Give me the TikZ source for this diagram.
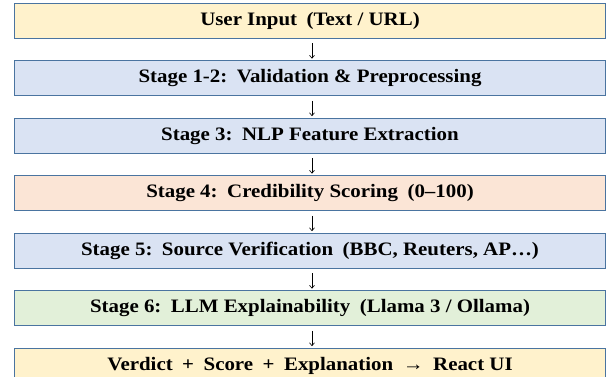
\documentclass[tikz,border=0pt]{standalone}
\usepackage{fontspec}
\setmainfont{Liberation Serif}[BoldFont={Liberation Serif Bold}, FakeStretch=1.1]
\usepackage{tikz}
\usetikzlibrary{arrows.meta, positioning}
\usepackage{xcolor}
\definecolor{boxline}{HTML}{4A74A0}
\definecolor{inputfill}{HTML}{FFF2CC}
\definecolor{stagefill}{HTML}{DAE3F3}
\definecolor{scorefill}{HTML}{FBE5D6}
\definecolor{llmfill}{HTML}{E2F0D9}

\begin{document}
\begin{tikzpicture}[x=1pt, y=1pt, node distance=21.3pt,
    stagebox/.style={draw=boxline, line width=1.2pt, minimum width=591pt,
      minimum height=35pt, inner sep=0pt,
      font=\bfseries\fontsize{19}{21}\selectfont},
    flowarrow/.style={-{Straight Barb[length=3pt, width=5pt]}, line width=0.6pt,
      shorten <=4.5pt, shorten >=1.5pt}]
  \useasboundingbox (0,0) rectangle (608,-376);
  % pipeline stages, top to bottom
  \node[stagebox, fill=inputfill] (input) at (310,-20.8)
    {User Input\enspace(Text / URL)};
  \node[stagebox, fill=stagefill, below=of input] (prep)
    {Stage 1-2:\enspace Validation \& Preprocessing};
  \node[stagebox, fill=stagefill, below=of prep] (nlp)
    {Stage 3:\enspace NLP Feature Extraction};
  \node[stagebox, fill=scorefill, below=of nlp] (score)
    {Stage 4:\enspace Credibility Scoring\enspace(0–100)};
  \node[stagebox, fill=stagefill, below=of score] (source)
    {Stage 5:\enspace Source Verification\enspace(BBC, Reuters, AP…)};
  \node[stagebox, fill=llmfill, below=of source] (llm)
    {Stage 6:\enspace LLM Explainability\enspace(Llama 3 / Ollama)};
  \node[stagebox, fill=inputfill, below=of llm] (verdict)
    {Verdict\enspace+\enspace Score\enspace+\enspace Explanation\enspace→\enspace React UI};
  % arrows between stages
  \foreach \a/\b in {input/prep, prep/nlp, nlp/score, score/source, source/llm, llm/verdict}
    \draw[flowarrow] ([xshift=2pt]\a.south) -- ([xshift=2pt]\b.north);
\end{tikzpicture}
\end{document}
